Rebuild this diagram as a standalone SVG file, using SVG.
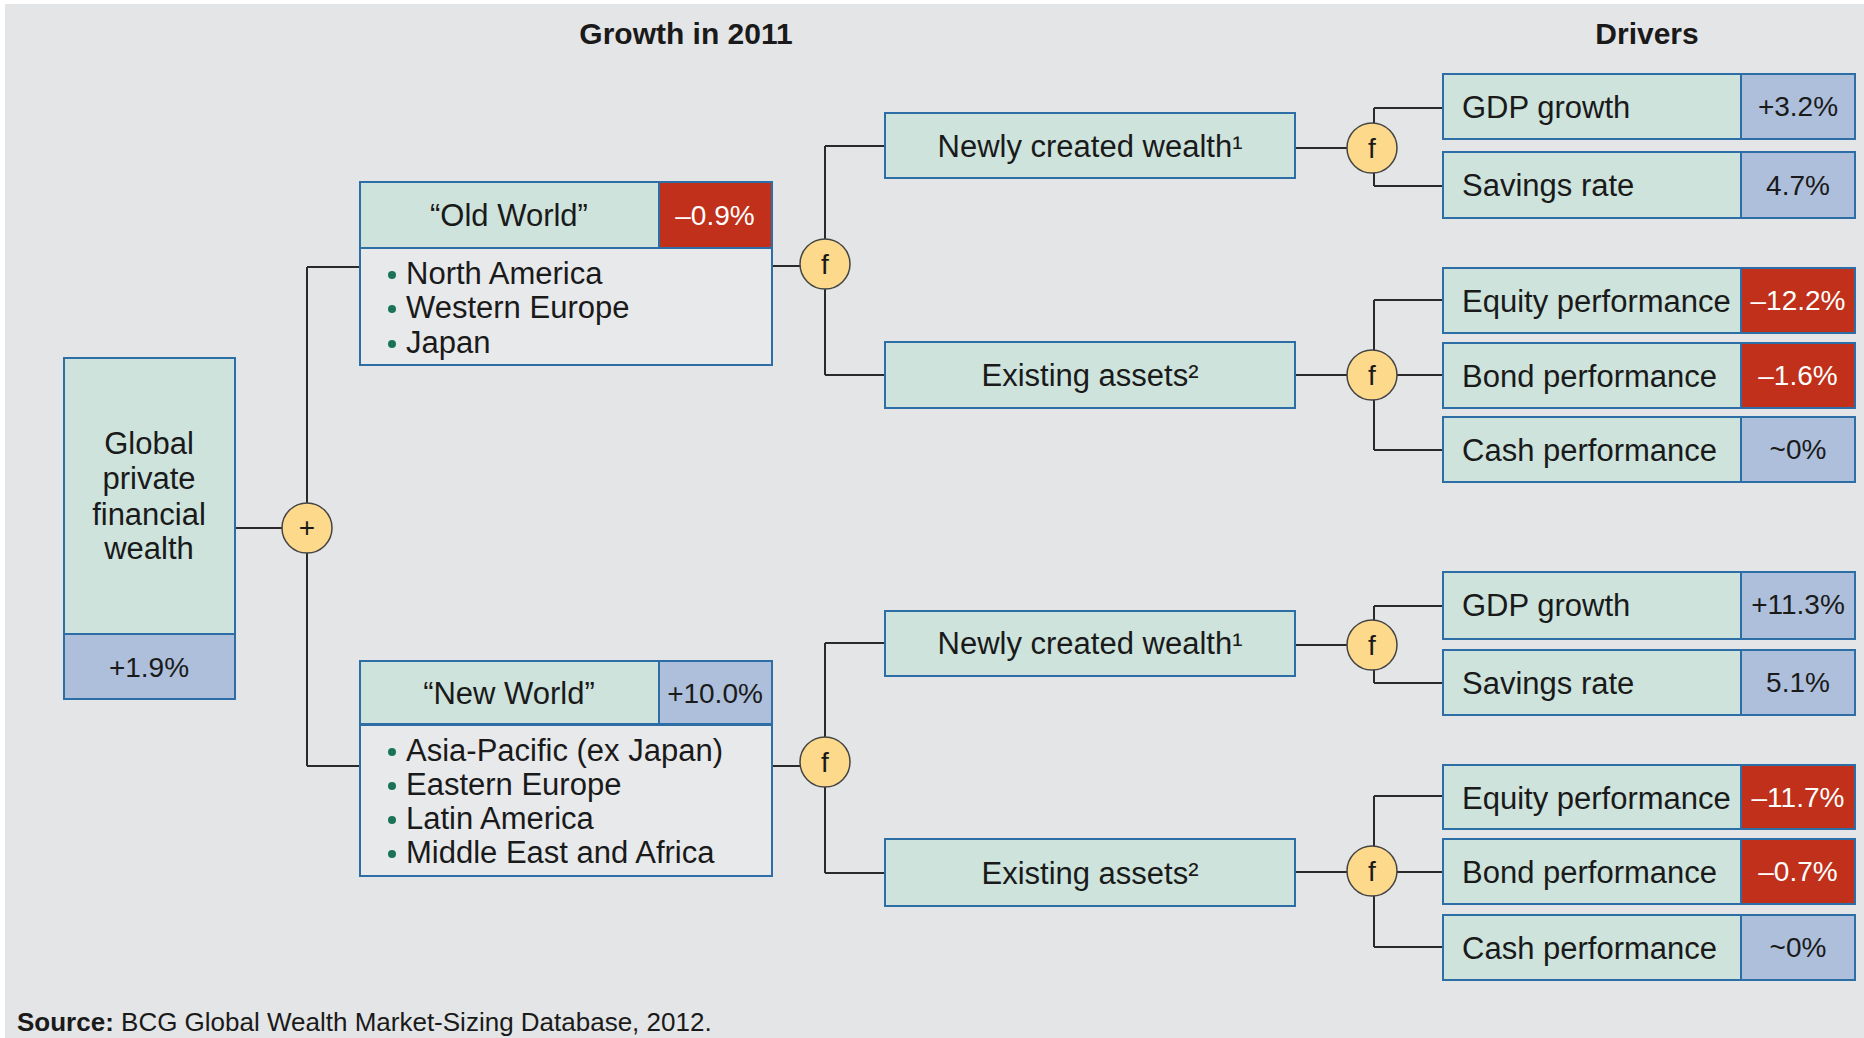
<svg xmlns="http://www.w3.org/2000/svg" width="1864" height="1038" viewBox="0 0 1864 1038">
<style>
text{font-family:"Liberation Sans",Arial,sans-serif;fill:#1a1a1a}
.t{font-size:31px}
.v{font-size:28px;text-anchor:middle}
.w{fill:#ffffff}
.c{text-anchor:middle}
.h{font-size:30px;font-weight:bold;text-anchor:middle}
.box{fill:#cde3dc;stroke:#2e6ea6;stroke-width:2}
.val{fill:#adbfda;stroke:#2e6ea6;stroke-width:2}
.red{fill:#c0301a;stroke:#2e6ea6;stroke-width:2}
.op{fill:#fdd98c;stroke:#444;stroke-width:1.5}
.opt{font-size:28px;text-anchor:middle}
.bul{fill:#1a7357}
#connectors path{fill:none;stroke:#2a2a2a;stroke-width:2}
</style>
<rect x="5" y="4" width="1859" height="1034" fill="#e4e5e6"/>
<text class="h" x="686" y="44">Growth in 2011</text>
<text class="h" x="1647" y="44">Drivers</text>

<g id="connectors">
<path d="M235 528H307M307 267V766M307 267H360M307 766H360"/>
<path d="M772 266H825M825 146V375M825 146H885M825 375H885"/>
<path d="M772 766H825M825 643V873M825 643H885M825 873H885"/>
<path d="M1295 148H1372M1374 108V186M1374 108H1443M1374 186H1443"/>
<path d="M1295 375H1443M1374 300V450M1374 300H1443M1374 450H1443"/>
<path d="M1295 645H1372M1374 606V683M1374 606H1443M1374 683H1443"/>
<path d="M1295 872H1443M1374 796V947M1374 796H1443M1374 947H1443"/>
</g>

<g id="global">
<rect class="box" x="64" y="358" width="171" height="276"/>
<rect class="val" x="64" y="634" width="171" height="65"/>
<text class="t c" x="149" y="454">Global</text>
<text class="t c" x="149" y="489">private</text>
<text class="t c" x="149" y="525">financial</text>
<text class="t c" x="149" y="559">wealth</text>
<text class="v" x="149" y="677">+1.9%</text>
</g>

<g id="op-plus"><circle class="op" cx="307" cy="528" r="25"/><text class="opt" x="307" y="537">+</text></g>

<g id="old-world">
<rect class="box" x="360" y="182" width="299" height="66"/>
<rect class="red" x="659" y="182" width="113" height="66"/>
<rect x="360" y="248" width="412" height="117" fill="#e8e9ea" stroke="#2e6ea6" stroke-width="2"/>
<text class="t c" x="509" y="226">“Old World”</text>
<text class="v w" x="715" y="225">–0.9%</text>
<circle class="bul" cx="392" cy="275" r="4"/><text class="t" x="406" y="284">North America</text>
<circle class="bul" cx="392" cy="309" r="4"/><text class="t" x="406" y="318">Western Europe</text>
<circle class="bul" cx="392" cy="344" r="4"/><text class="t" x="406" y="353">Japan</text>
</g>

<g id="new-world">
<rect class="box" x="360" y="661" width="299" height="63"/>
<rect class="val" x="659" y="661" width="113" height="63"/>
<rect x="360" y="725" width="412" height="151" fill="#e8e9ea" stroke="#2e6ea6" stroke-width="2"/>
<text class="t c" x="509" y="704">“New World”</text>
<text class="v" x="715" y="703">+10.0%</text>
<circle class="bul" cx="392" cy="752" r="4"/><text class="t" x="406" y="761">Asia-Pacific (ex Japan)</text>
<circle class="bul" cx="392" cy="786" r="4"/><text class="t" x="406" y="795">Eastern Europe</text>
<circle class="bul" cx="392" cy="820" r="4"/><text class="t" x="406" y="829">Latin America</text>
<circle class="bul" cx="392" cy="854" r="4"/><text class="t" x="406" y="863">Middle East and Africa</text>
</g>

<g id="op-old"><circle class="op" cx="825" cy="264" r="25"/><text class="opt" x="825" y="274">f</text></g>
<g id="op-new"><circle class="op" cx="825" cy="762" r="25"/><text class="opt" x="825" y="772">f</text></g>

<g id="newly-old"><rect class="box" x="885" y="113" width="410" height="65"/><text class="t c" x="1090" y="157">Newly created wealth¹</text></g>
<g id="existing-old"><rect class="box" x="885" y="342" width="410" height="66"/><text class="t c" x="1090" y="386">Existing assets²</text></g>
<g id="newly-new"><rect class="box" x="885" y="611" width="410" height="65"/><text class="t c" x="1090" y="654">Newly created wealth¹</text></g>
<g id="existing-new"><rect class="box" x="885" y="839" width="410" height="67"/><text class="t c" x="1090" y="884">Existing assets²</text></g>

<g id="op-newly-old"><circle class="op" cx="1372" cy="148" r="25"/><text class="opt" x="1372" y="158">f</text></g>
<g id="op-existing-old"><circle class="op" cx="1372" cy="375" r="25"/><text class="opt" x="1372" y="385">f</text></g>
<g id="op-newly-new"><circle class="op" cx="1372" cy="645" r="25"/><text class="opt" x="1372" y="655">f</text></g>
<g id="op-existing-new"><circle class="op" cx="1372" cy="871" r="25"/><text class="opt" x="1372" y="881">f</text></g>

<g id="gdp-old"><rect class="box" x="1443" y="74" width="298" height="65"/><rect class="val" x="1741" y="74" width="114" height="65"/><text class="t" x="1462" y="118">GDP growth</text><text class="v" x="1798" y="116">+3.2%</text></g>
<g id="savings-old"><rect class="box" x="1443" y="152" width="298" height="66"/><rect class="val" x="1741" y="152" width="114" height="66"/><text class="t" x="1462" y="196">Savings rate</text><text class="v" x="1798" y="195">4.7%</text></g>
<g id="equity-old"><rect class="box" x="1443" y="268" width="298" height="65"/><rect class="red" x="1741" y="268" width="114" height="65"/><text class="t" x="1462" y="312">Equity performance</text><text class="v w" x="1798" y="310">–12.2%</text></g>
<g id="bond-old"><rect class="box" x="1443" y="343" width="298" height="65"/><rect class="red" x="1741" y="343" width="114" height="65"/><text class="t" x="1462" y="387">Bond performance</text><text class="v w" x="1798" y="385">–1.6%</text></g>
<g id="cash-old"><rect class="box" x="1443" y="417" width="298" height="65"/><rect class="val" x="1741" y="417" width="114" height="65"/><text class="t" x="1462" y="461">Cash performance</text><text class="v" x="1798" y="459">~0%</text></g>

<g id="gdp-new"><rect class="box" x="1443" y="572" width="298" height="67"/><rect class="val" x="1741" y="572" width="114" height="67"/><text class="t" x="1462" y="616">GDP growth</text><text class="v" x="1798" y="614">+11.3%</text></g>
<g id="savings-new"><rect class="box" x="1443" y="650" width="298" height="65"/><rect class="val" x="1741" y="650" width="114" height="65"/><text class="t" x="1462" y="694">Savings rate</text><text class="v" x="1798" y="692">5.1%</text></g>
<g id="equity-new"><rect class="box" x="1443" y="765" width="298" height="64"/><rect class="red" x="1741" y="765" width="114" height="64"/><text class="t" x="1462" y="809">Equity performance</text><text class="v w" x="1798" y="807">–11.7%</text></g>
<g id="bond-new"><rect class="box" x="1443" y="839" width="298" height="65"/><rect class="red" x="1741" y="839" width="114" height="65"/><text class="t" x="1462" y="883">Bond performance</text><text class="v w" x="1798" y="881">–0.7%</text></g>
<g id="cash-new"><rect class="box" x="1443" y="915" width="298" height="65"/><rect class="val" x="1741" y="915" width="114" height="65"/><text class="t" x="1462" y="959">Cash performance</text><text class="v" x="1798" y="957">~0%</text></g>

<text x="17" y="1031" style="font-size:26px"><tspan font-weight="bold">Source:</tspan> BCG Global Wealth Market-Sizing Database, 2012.</text>
</svg>
